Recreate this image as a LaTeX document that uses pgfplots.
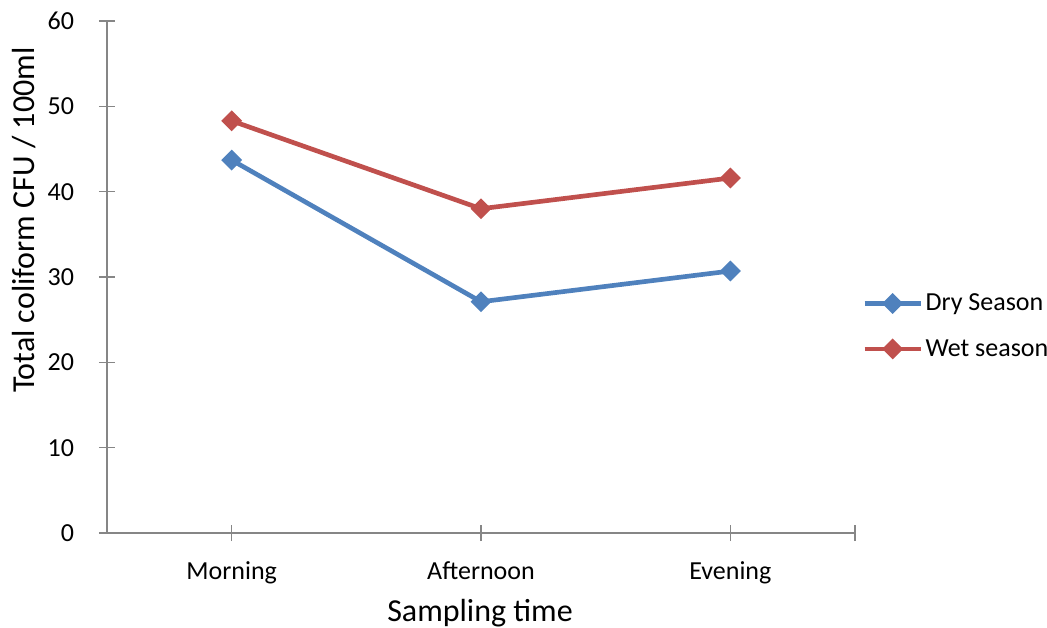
\documentclass[border=0pt]{standalone}
\usepackage{pgfplots}
\pgfplotsset{compat=1.18}
\usepackage{fontspec}
\setmainfont{Carlito}
\definecolor{dryblue}{HTML}{4F81BD}
\definecolor{wetred}{HTML}{C0504D}
\definecolor{axgray}{HTML}{868686}
\begin{document}
\begin{tikzpicture}
\begin{axis}[
  name=ax,
  scale only axis,
  width=561pt, height=384pt,
  xmin=-0.5, xmax=2.5, ymin=0, ymax=60,
  axis lines*=left,
  axis line style={axgray, line width=1.4pt},
  xtick={0,1,2}, xticklabels={Morning,Afternoon,Evening},
  extra x ticks={2.5}, extra x tick labels={},
  ytick={0,10,...,60},
  tick align=center,
  major tick length=12pt,
  tick style={axgray, line width=1.2pt},
  /pgf/number format/assume math mode=true,
  ticklabel style={font=\fontsize{19.5}{22}\selectfont},
  xticklabel style={anchor=base, inner sep=0pt, yshift=-28.5pt},
  yticklabel style={anchor=east, inner sep=0pt, xshift=-18.5pt},
  every axis x label/.style={at={(axis description cs:0.4987,-0.172)}, anchor=base},
  every axis y label/.style={at={(axis description cs:-0.0963,0.611)}, rotate=90, anchor=base},
  label style={font=\fontsize{24}{28}\selectfont},
  xlabel={Sampling time},
  ylabel={Total coliform CFU / 100ml},
  legend style={draw=none, fill=none, at={(axis description cs:1.0094,0.404)}, anchor=west,
    font=\fontsize{19.5}{22}\selectfont, row sep=16pt, inner sep=0pt,
    nodes={inner sep=2pt}},
  legend cell align=left,
  legend image code/.code={\draw[mark repeat=2,mark phase=2,#1] plot coordinates {(0pt,0pt) (21pt,0pt) (42pt,0pt)};},
  clip=false,
]
\addplot[dryblue, line width=3.5pt, mark=square*, mark size=3.8pt, mark options={rotate=45, solid}]
  coordinates {(0,43.7) (1,27.1) (2,30.7)};
\addplot[wetred, line width=3.5pt, mark=square*, mark size=3.8pt, mark options={rotate=45, solid}]
  coordinates {(0,48.3) (1,38.0) (2,41.6)};
\legend{Dry Season, Wet season}
\end{axis}
\pgfresetboundingbox
\path[use as bounding box] ([xshift=-107*0.75pt, yshift=-94*0.75pt]ax.south west) rectangle ([xshift=192*0.75pt, yshift=21*0.75pt]ax.north east);
\end{tikzpicture}
\end{document}
